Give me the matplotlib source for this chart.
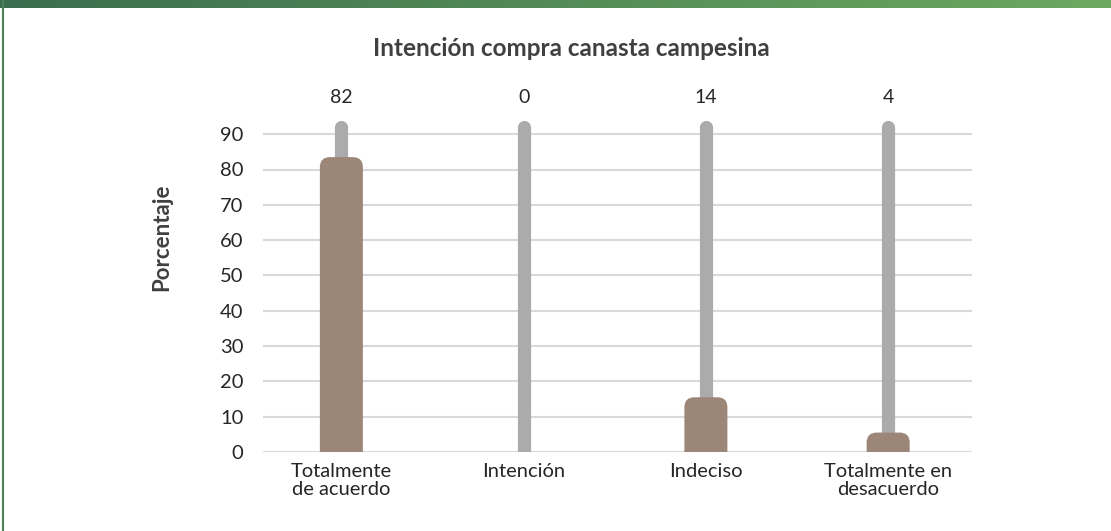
import numpy as np
import matplotlib.pyplot as plt
from matplotlib.patches import FancyBboxPatch

categorias = ['Totalmente\nde acuerdo', 'Intención', 'Indeciso', 'Totalmente en\ndesacuerdo']
porcentaje = [82, 0, 14, 4]
fondo = [92, 92, 92, 92]
yticks = [0, 10, 20, 30, 40, 50, 60, 70, 80, 90]

plt.rcParams['font.family'] = ['Lato', 'DejaVu Sans']


def main():
    fig = plt.figure(figsize=(11.11, 5.31), dpi=100)

    # top gradient band and left border
    band = fig.add_axes([0, 1 - 8 / 531, 1, 8 / 531])
    grad = np.linspace(0, 1, 256)[None, :, None]
    c0 = np.array([0x3b, 0x6d, 0x4e]) / 255
    c1 = np.array([0x6c, 0xa9, 0x60]) / 255
    band.imshow(c0 + (c1 - c0) * grad, aspect='auto')
    band.axis('off')
    fig.add_artist(plt.Line2D([3 / 1111, 3 / 1111], [0, 1], color='#4c7f55', lw=1.5))

    ax = fig.add_axes([263 / 1111, 79 / 531, 709 / 1111, 339 / 531])
    x = np.arange(len(categorias))
    ax.set_xlim(-0.43, 3.46)
    ax.set_ylim(0, 96)

    ax.vlines(x, 0, fondo, colors='#ababab', lw=9.5, capstyle='round', zorder=2)

    # rounded bars: correct the rounding for the unequal data aspect
    px_x = 709 / 3.89
    px_y = 339 / 96
    aspect = px_x / px_y
    w = 0.236
    r = 10 / px_x
    for xi, v in zip(x, porcentaje):
        if v <= 0:
            continue
        ax.add_patch(FancyBboxPatch((xi - w / 2, -5), w, v + 6.5,
                                    boxstyle=f'round,pad=0,rounding_size={r}',
                                    mutation_aspect=aspect, fc='#9c8677', ec='none',
                                    zorder=3))

    for xi, v in zip(x, porcentaje):
        ax.text(xi, 100.5, str(v), ha='center', va='center', fontsize=14,
                color='#262626', clip_on=False)

    ax.set_yticks(yticks)
    ax.set_xticks(x)
    ax.set_xticklabels(categorias, fontsize=14.5, color='#262626', linespacing=1.05)
    ax.tick_params(axis='y', labelsize=14.5, colors='#262626', length=0, pad=14)
    ax.tick_params(axis='x', length=0, pad=8)
    ax.grid(axis='y', color='#d9d9d9', lw=1.5, zorder=0)
    for s in ax.spines.values():
        s.set_visible(False)

    ax.set_ylabel('Porcentaje', fontsize=16, fontweight='bold', color='#404040')
    ax.yaxis.set_label_coords(-0.128, 0.633)
    fig.text(0.5145, 1 - 49 / 531, 'Intención compra canasta campesina', ha='center',
             va='center', fontsize=17.5, fontweight='bold', color='#404040')

    fig.savefig('out.png', dpi=100)


if __name__ == '__main__':
    main()
